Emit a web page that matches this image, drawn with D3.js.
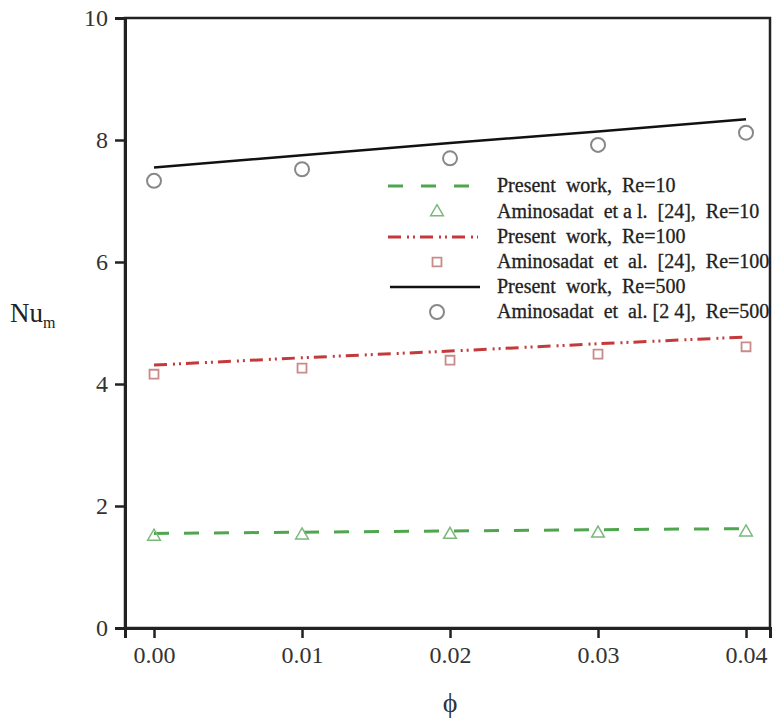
<!DOCTYPE html>
<html>
<head>
<meta charset="utf-8">
<script src="https://cdn.jsdelivr.net/npm/d3@7"></script>
<style>
  html, body { margin: 0; padding: 0; background: #fff; }
</style>
</head>
<body>
<svg id="chart" width="772" height="718"></svg>
<script>
// ---- data ----
const phi = [0.00, 0.01, 0.02, 0.03, 0.04];
const present10  = [1.55, 1.57, 1.59, 1.61, 1.63];
const amino10    = [1.50, 1.52, 1.53, 1.55, 1.57];
const present100 = [4.31, 4.43, 4.54, 4.66, 4.77];
const amino100   = [4.16, 4.26, 4.39, 4.49, 4.61];
const present500 = [7.55, 7.75, 7.95, 8.14, 8.34];
const amino500   = [7.33, 7.52, 7.70, 7.92, 8.12];
const xTicks = [0.00, 0.01, 0.02, 0.03, 0.04];
const yTicks = [0, 2, 4, 6, 8, 10];
const legendLabels = [
  "Present  work,  Re=10",
  "Aminosadat  et a l.  [24],  Re=10",
  "Present  work,  Re=100",
  "Aminosadat  et  al.  [24],  Re=100",
  "Present  work,  Re=500",
  "Aminosadat  et  al. [2 4],  Re=500"
];

// ---- layout ----
const FONT = "Liberation Serif, Times New Roman, DejaVu Serif, serif";
const svg = d3.select("#chart").attr("font-family", FONT);
const pL = 125, pR = 770, pT = 18, pB = 628;
const x = d3.scaleLinear().domain([-0.00196, 0.04162]).range([pL, pR]);
const y = d3.scaleLinear().domain([0, 10]).range([pB, pT]);

// frame
svg.append("rect")
  .attr("x", pL).attr("y", pT)
  .attr("width", pR - pL).attr("height", pB - pT)
  .attr("fill", "none").attr("stroke", "#222").attr("stroke-width", 2.5);

// axes
const xAxis = svg.append("g").attr("transform", `translate(0,${pB})`)
  .call(d3.axisBottom(x).tickValues(xTicks).tickFormat(d3.format(".2f")).tickSize(10).tickPadding(8));
const yAxis = svg.append("g").attr("transform", `translate(${pL},0)`)
  .call(d3.axisLeft(y).tickValues(yTicks).tickFormat(d3.format("d")).tickSize(10).tickPadding(7));
[xAxis, yAxis].forEach(g => {
  g.attr("font-family", FONT).attr("font-size", 24);
  g.select(".domain").attr("stroke", "#222").attr("stroke-width", 3);
  g.selectAll(".tick line").attr("stroke", "#222").attr("stroke-width", 2.5);
  g.selectAll(".tick text").attr("fill", "#333").attr("font-size", 24).attr("font-family", FONT);
});

// axis titles
svg.append("text").attr("x", 450).attr("y", 712).attr("text-anchor", "middle")
  .attr("font-family", FONT).attr("font-size", 28).attr("fill", "#333").text("ϕ");
const yt = svg.append("text").attr("x", 10).attr("y", 322).attr("font-family", FONT)
  .attr("font-size", 27).attr("fill", "#222");
yt.append("tspan").text("Nu");
yt.append("tspan").attr("font-size", 16).attr("dy", 6).text("m");

// lines
const line = vals => d3.line().x((d, i) => x(phi[i])).y(d => y(d))(vals);
const g = svg.append("g");
g.append("path").attr("d", line(present10)).attr("fill", "none")
  .attr("stroke", "#4fa64f").attr("stroke-width", 3).attr("stroke-dasharray", "15,15");
g.append("path").attr("d", line(present100)).attr("fill", "none")
  .attr("stroke", "#c43a3a").attr("stroke-width", 3).attr("stroke-dasharray", "13,6,2,4,2,5");
g.append("path").attr("d", line(present500)).attr("fill", "none")
  .attr("stroke", "#111").attr("stroke-width", 2.5);

// markers
const tri = d3.symbol().type(d3.symbolTriangle).size(70);
const sq = d3.symbol().type(d3.symbolSquare).size(80);
g.selectAll(".t10").data(amino10).join("path")
  .attr("d", tri).attr("transform", (d, i) => `translate(${x(phi[i])},${y(d)})`)
  .attr("fill", "none").attr("stroke", "#7bb87b").attr("stroke-width", 1.5);
g.selectAll(".s100").data(amino100).join("path")
  .attr("d", sq).attr("transform", (d, i) => `translate(${x(phi[i])},${y(d)})`)
  .attr("fill", "none").attr("stroke", "#c98a8a").attr("stroke-width", 1.8);
g.selectAll(".c500").data(amino500).join("circle")
  .attr("cx", (d, i) => x(phi[i])).attr("cy", d => y(d)).attr("r", 7)
  .attr("fill", "none").attr("stroke", "#888").attr("stroke-width", 2);

// legend
const legY = [186, 212, 237, 262, 287, 312];
const leg = svg.append("g");
legendLabels.forEach((t, i) => {
  leg.append("text").attr("x", 497).attr("y", legY[i] + 6)
    .attr("font-family", FONT).attr("font-size", 20).attr("fill", "#222")
    .attr("stroke", "#222").attr("stroke-width", 0.3)
    .attr("xml:space", "preserve").style("white-space", "pre").text(t);
});
leg.append("line").attr("x1", 388).attr("x2", 470).attr("y1", legY[0]).attr("y2", legY[0])
  .attr("stroke", "#4fa64f").attr("stroke-width", 3).attr("stroke-dasharray", "15,18");
leg.append("path").attr("d", tri).attr("transform", `translate(437,${legY[1]})`)
  .attr("fill", "none").attr("stroke", "#7bb87b").attr("stroke-width", 1.5);
leg.append("line").attr("x1", 388).attr("x2", 478).attr("y1", legY[2]).attr("y2", legY[2])
  .attr("stroke", "#c43a3a").attr("stroke-width", 3).attr("stroke-dasharray", "13,6,2,4,2,5");
leg.append("path").attr("d", sq).attr("transform", `translate(437,${legY[3]})`)
  .attr("fill", "none").attr("stroke", "#c98a8a").attr("stroke-width", 1.8);
leg.append("line").attr("x1", 390).attr("x2", 480).attr("y1", legY[4]).attr("y2", legY[4])
  .attr("stroke", "#111").attr("stroke-width", 2.5);
leg.append("circle").attr("cx", 437).attr("cy", legY[5]).attr("r", 7)
  .attr("fill", "none").attr("stroke", "#888").attr("stroke-width", 2);
</script>
</body>
</html>
